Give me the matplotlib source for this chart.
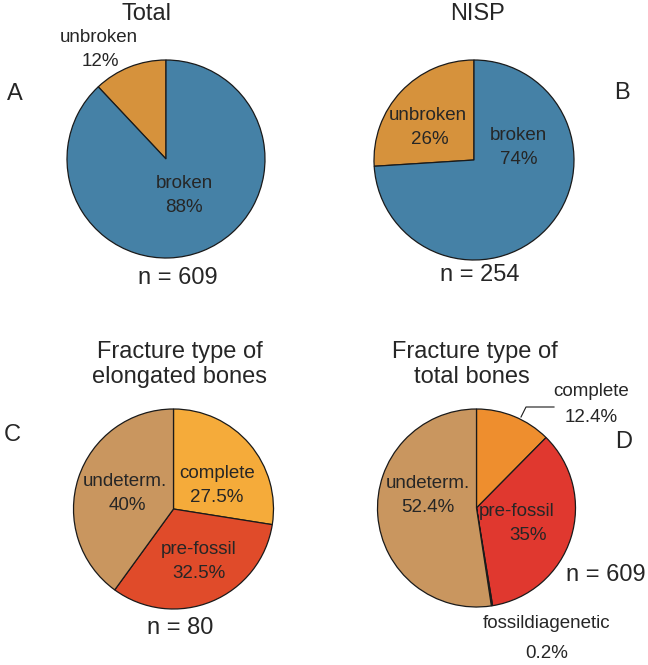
import matplotlib
matplotlib.use("Agg")
import matplotlib.pyplot as plt

plt.rcParams["font.family"] = ["Liberation Sans", "DejaVu Sans"]

# ── data ────────────────────────────────────────────────────────────────
total_labels = ["unbroken", "broken"]
total_pct = [12, 88]
total_n = 609

nisp_labels = ["unbroken", "broken"]
nisp_pct = [26, 74]
nisp_n = 254

elong_labels = ["complete", "pre-fossil", "undeterm."]
elong_pct = [27.5, 32.5, 40]
elong_n = 80

frac_labels = ["complete", "pre-fossil", "fossildiagenetic", "undeterm."]
frac_pct = [12.4, 35, 0.2, 52.4]
frac_n = 609

# ── style ───────────────────────────────────────────────────────────────
W, H = 648, 665
TXT = "#262626"
BLUE, ORANGE = "#4581a6", "#d6923c"
elong_colors = ["#f5ab3a", "#e04b2a", "#c9965f"]
frac_colors = ["#ee8e2e", "#e0382f", "#2a2a2a", "#c9965f"]
TITLE = 17

fig = plt.figure(figsize=(W / 100, H / 100), dpi=100)
ax = fig.add_axes([0, 0, 1, 1])


def Y(py):
    return H - py


def txt(x, y, s, size=13.5, **kw):
    ax.text(x, Y(y), s, ha="center", va="center", fontsize=size, color=TXT, **kw)


def pie(vals, colors, cx, cy, r, counterclock):
    ax.pie(vals, colors=colors, startangle=90, counterclock=counterclock,
           center=(cx, Y(cy)), radius=r, frame=True,
           wedgeprops=dict(edgecolor="#1a1a1a", linewidth=0.9))


# A — Total
pie(total_pct, [ORANGE, BLUE], 166, 159, 99, True)
txt(146, 14, "Total", size=TITLE)
txt(15, 94, "A", size=17)
txt(99, 38, total_labels[0])
txt(100, 62, f"{total_pct[0]:g}%")
txt(184, 183, total_labels[1])
txt(184, 207, f"{total_pct[1]:g}%")
txt(178, 278, f"n = {total_n}", size=TITLE)

# B — NISP
pie(nisp_pct, [ORANGE, BLUE], 474, 160, 100, True)
txt(477, 14, "NISP", size=TITLE)
txt(622, 93, "B", size=17)
txt(428, 115, nisp_labels[0])
txt(430, 139, f"{nisp_pct[0]:g}%")
txt(518, 135, nisp_labels[1])
txt(519, 159, f"{nisp_pct[1]:g}%")
txt(480, 275, f"n = {nisp_n}", size=TITLE)

# C — elongated bones
pie(elong_pct, elong_colors, 173.5, 509, 100, False)
txt(180, 352, "Fracture type of", size=TITLE)
txt(180, 377, "elongated bones", size=TITLE)
txt(12, 435, "C", size=17)
txt(217, 473, elong_labels[0])
txt(217, 498, f"{elong_pct[0]:g}%")
txt(199, 550, elong_labels[1])
txt(199, 574, f"{elong_pct[1]:g}%")
txt(125, 482, elong_labels[2])
txt(127, 506, f"{elong_pct[2]:g}%")
txt(180, 628, f"n = {elong_n}", size=TITLE)

# D — total bones
pie(frac_pct, frac_colors, 476.5, 508, 99, False)
txt(475, 352, "Fracture type of", size=TITLE)
txt(472, 377, "total bones", size=TITLE)
txt(624, 442, "D", size=17)
txt(591, 392, frac_labels[0])
txt(591, 417, f"{frac_pct[0]:g}%")
ax.plot([521, 526, 554], [Y(417), Y(407), Y(407)], color="#1a1a1a", lw=0.8)
txt(517, 512, frac_labels[1])
txt(528, 535, f"{frac_pct[1]:g}%")
txt(547, 623, frac_labels[2])
txt(547, 653, f"{frac_pct[2]:g}%")
txt(428, 483, frac_labels[3])
txt(428, 507, f"{frac_pct[3]:g}%")
txt(606, 575, f"n = {frac_n}", size=TITLE)

ax.set_xlim(0, W)
ax.set_ylim(0, H)
ax.set_aspect("auto")
ax.axis("off")

fig.savefig("out.png", dpi=100, facecolor="white")
